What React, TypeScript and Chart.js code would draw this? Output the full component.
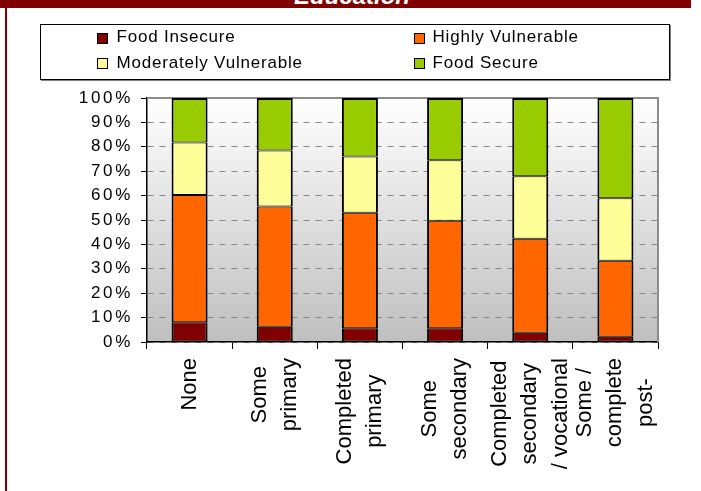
import React, { useEffect, useRef } from 'react';
import { Chart, registerables } from 'chart.js';

Chart.register(...registerables);

// ---- data ----
const categories: string[][] = [
  ['None'],
  ['Some', 'primary'],
  ['Completed', 'primary'],
  ['Some', 'secondary'],
  ['Completed', 'secondary', '/ vocational'],
  ['Some /', 'complete', 'post-'],
];
const seriesNames = ['Food Insecure', 'Highly Vulnerable', 'Moderately Vulnerable', 'Food Secure'];
const foodInsecure = [8.1, 6.3, 5.6, 5.6, 3.8, 2.2];
const highlyVulnerable = [52.1, 49.2, 47.4, 44.1, 38.5, 31.1];
const moderatelyVulnerable = [21.6, 23.0, 23.0, 24.8, 25.6, 25.6];
const foodSecure = [18.2, 21.5, 24.0, 25.5, 32.1, 41.1];
const seriesValues = [foodInsecure, highlyVulnerable, moderatelyVulnerable, foodSecure];
const seriesColors = ['#800000', '#FF6600', '#FFFF99', '#99CC00'];
const titleText = 'Education';

const FONT = '"Liberation Sans", Arial, Helvetica, sans-serif';

const bgPlugin = {
  id: 'plotBg',
  beforeDraw(chart: any) {
    const { ctx, chartArea: a } = chart;
    ctx.letterSpacing = '2.7px';
    const g = ctx.createLinearGradient(0, a.top, 0, a.bottom);
    g.addColorStop(0, '#ffffff');
    g.addColorStop(1, '#bfbfbf');
    ctx.save();
    ctx.fillStyle = g;
    ctx.fillRect(a.left, a.top, a.right - a.left, a.bottom - a.top);
    ctx.restore();
  },
  beforeDatasetsDraw(chart: any) {
    const { ctx, chartArea: a } = chart;
    ctx.save();
    ctx.strokeStyle = '#8c8c8c';
    ctx.lineWidth = 2;
    ctx.beginPath();
    ctx.moveTo(a.left, a.top);
    ctx.lineTo(a.right, a.top);
    ctx.lineTo(a.right, a.bottom);
    ctx.stroke();
    ctx.restore();
  },
};

const xLabelPlugin = {
  id: 'xLabels',
  afterDraw(chart: any) {
    const { ctx } = chart;
    const x = chart.scales.x;
    ctx.save();
    ctx.letterSpacing = '0px';
    ctx.font = `22px ${FONT}`;
    ctx.fillStyle = '#000';
    ctx.textAlign = 'center';
    ctx.textBaseline = 'middle';
    categories.forEach((lines, i) => {
      const cx = x.getPixelForValue(i);
      const maxW = Math.max(...lines.map((l) => ctx.measureText(l).width));
      const cy = x.top + 16 + maxW / 2;
      lines.forEach((line, j) => {
        const lx = cx + (j - (lines.length - 1) / 2) * 30.5;
        ctx.save();
        ctx.translate(lx, cy);
        ctx.rotate(-Math.PI / 2);
        ctx.fillText(line, 0, 0);
        ctx.restore();
      });
    });
    ctx.restore();
  },
};

export default function App() {
  const ref = useRef<HTMLCanvasElement | null>(null);

  useEffect(() => {
    if (!ref.current) return;
    const chart = new Chart(ref.current, {
      type: 'bar',
      data: {
        labels: categories,
        datasets: seriesNames.map((name, k) => ({
          label: name,
          data: seriesValues[k],
          backgroundColor: seriesColors[k],
          borderColor: '#000000',
          borderWidth: k === 3 ? { top: 2, left: 2, right: 2, bottom: 1 } : { top: 1, left: 2, right: 2, bottom: 1 },
          borderSkipped: false,
          barPercentage: 0.423,
          categoryPercentage: 1,
        })),
      },
      options: {
        animation: false,
        responsive: false,
        layout: { padding: { left: 57, right: 43, top: 98, bottom: 49 } },
        plugins: { legend: { display: false }, tooltip: { enabled: false }, title: { display: false } },
        scales: {
          x: {
            stacked: true,
            ticks: { display: false },
            grid: { offset: true, drawOnChartArea: false, drawTicks: true, tickLength: 7, tickColor: '#000', tickWidth: 1 },
            border: { display: true, color: '#000', width: 1.5 },
            afterFit: (s: any) => { s.height = 100; },
          },
          y: {
            stacked: true,
            min: 0,
            max: 100,
            ticks: {
              stepSize: 10,
              callback: (v: any) => `${v}%`,
              color: '#000',
              font: { family: FONT, size: 17 },
              padding: 8,
            },
            grid: { color: '#888888', lineWidth: 1, drawTicks: true, tickLength: 6, tickColor: '#000', tickWidth: 1 },
            border: { display: true, color: '#000', width: 1.5, dash: [6, 6] },
            afterFit: (s: any) => { s.width = 90; },
          },
        },
      },
      plugins: [bgPlugin, xLabelPlugin],
    } as any);
    return () => chart.destroy();
  }, []);

  const legendPos = [
    { mx: 97, my: 33, tx: 116.5, ty: 27.4 },
    { mx: 414, my: 33, tx: 432.5, ty: 27.4 },
    { mx: 97, my: 58, tx: 116.5, ty: 53 },
    { mx: 414, my: 58, tx: 432.5, ty: 53 },
  ];

  return (
    <div style={{ position: 'absolute', left: 0, top: 0, width: 701, height: 491, background: '#fff', overflow: 'hidden', fontFamily: FONT }}>
      <canvas ref={ref} width={701} height={491} style={{ position: 'absolute', left: 0, top: 0, width: 701, height: 491 }} />
      {/* title band */}
      <div style={{ position: 'absolute', left: 0, top: 0, width: 691, height: 8, background: '#800000', overflow: 'hidden' }}>
        <div style={{ position: 'absolute', left: 0, top: -15.8, width: 704, textAlign: 'center', color: '#fff', fontWeight: 'bold', fontStyle: 'italic', fontSize: 24, lineHeight: '24px', whiteSpace: 'nowrap' }}>
          {titleText}
        </div>
      </div>
      {/* left frame */}
      <div style={{ position: 'absolute', left: 5, top: 0, width: 2, height: 491, background: '#800000' }} />
      {/* legend */}
      <div style={{ position: 'absolute', left: 40, top: 24, width: 630, height: 56, boxSizing: 'border-box', border: '1px solid #000', boxShadow: '1px 1px 0 #808080', background: '#fff' }} />
      {seriesNames.map((name, k) => (
        <React.Fragment key={name}>
          <div style={{ position: 'absolute', left: legendPos[k].mx, top: legendPos[k].my, width: 11, height: 11, boxSizing: 'border-box', border: '1px solid #000', background: seriesColors[k] }} />
          <div style={{ position: 'absolute', left: legendPos[k].tx, top: legendPos[k].ty, fontSize: 17, lineHeight: '20px', letterSpacing: '0.8px', color: '#000', whiteSpace: 'nowrap' }}>
            {name}
          </div>
        </React.Fragment>
      ))}
    </div>
  );
}
